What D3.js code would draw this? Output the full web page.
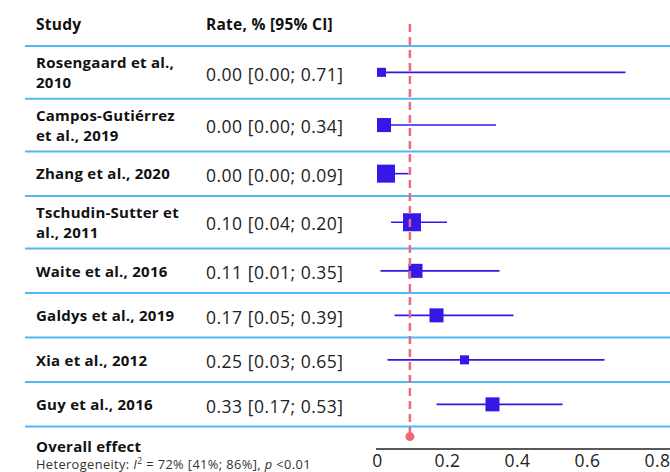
<!DOCTYPE html>
<html>
<head>
<meta charset="utf-8">
<script src="https://cdn.jsdelivr.net/npm/d3@7"></script>
<style>
  html, body { margin: 0; padding: 0; background: #fff; }
  svg { display: block; }
</style>
</head>
<body>
<div id="chart"></div>
<script>
// ---- data ----
const studies = [
  "Rosengaard et al., 2010",
  "Campos-Gutiérrez et al., 2019",
  "Zhang et al., 2020",
  "Tschudin-Sutter et al., 2011",
  "Waite et al., 2016",
  "Galdys et al., 2019",
  "Xia et al., 2012",
  "Guy et al., 2016"
];
const rates   = [0.00, 0.00, 0.00, 0.10, 0.11, 0.17, 0.25, 0.33];
const ciLower = [0.00, 0.00, 0.00, 0.04, 0.01, 0.05, 0.03, 0.17];
const ciUpper = [0.71, 0.34, 0.09, 0.20, 0.35, 0.39, 0.65, 0.53];
const weights = [5.1, 12.3, 20.3, 20.3, 12.3, 12.3, 5.1, 12.3];
const overallRate = 0.094;
const xTicks = [0, 0.2, 0.4, 0.6, 0.8];
const headers = ["Study", "Rate, % [95% CI]"];

// ---- layout ----
const W = 670, H = 472;
const svg = d3.select("#chart").append("svg").attr("width", W).attr("height", H);

const fontFam = "'Open Sans', 'Noto Sans', sans-serif";
const lineColor = "#4db9f5";
const markColor = "#3318e8";
const dashColor = "#f0687a";
const boldSize = 15;
const boldLS = 0.25;

const x = d3.scaleLinear().domain([0, 0.8]).range([377, 657]);
const size = d3.scaleSqrt().domain([0, 20.3]).range([0, 18]);

const fmt = d3.format(".2f");

function boldText(sel) {
  return sel.attr("font-family", fontFam).attr("font-weight", 700)
    .attr("font-size", boldSize).attr("letter-spacing", boldLS).attr("fill", "#111");
}

// wrap study names
const wrapWidth = 148;
const tmp = boldText(svg.append("text"));
function wrap(str) {
  const words = str.split(" ");
  const lines = [];
  let cur = "";
  words.forEach(w => {
    const test = cur ? cur + " " + w : w;
    tmp.text(test);
    if (tmp.node().getComputedTextLength() > wrapWidth && cur) {
      lines.push(cur); cur = w;
    } else cur = test;
  });
  lines.push(cur);
  return lines;
}
const rows = studies.map((s, i) => ({
  name: s, lines: wrap(s), rate: rates[i], lo: ciLower[i], hi: ciUpper[i], w: weights[i]
}));
tmp.remove();

let y0 = 46;
rows.forEach(r => {
  r.h = 36.3 + 8.2 * r.lines.length;
  r.top = y0;
  r.cy = y0 + r.h / 2;
  y0 += r.h;
});
const tableBottom = y0;

// headers
boldText(svg.append("text")).attr("x", 36).attr("y", 30).attr("font-size", 15.5).text(headers[0]);
boldText(svg.append("text")).attr("x", 206).attr("y", 30).attr("font-size", 15.5).text(headers[1]);

// row separators
const seps = [46].concat(rows.map(r => r.top + r.h));
svg.selectAll("line.sep").data(seps).enter().append("line")
  .attr("class", "sep")
  .attr("x1", 25).attr("x2", W)
  .attr("y1", d => d).attr("y2", d => d)
  .attr("stroke", lineColor).attr("stroke-width", 2);

// study labels
const g = svg.selectAll("g.row").data(rows).enter().append("g").attr("class", "row");
boldText(g.append("text"))
  .each(function(d) {
    const t = d3.select(this);
    const n = d.lines.length;
    d.lines.forEach((ln, k) => {
      t.append("tspan").attr("x", 36)
        .attr("y", d.cy + (k - (n - 1) / 2) * 20 + 5.8)
        .text(ln);
    });
  });

// value labels
g.append("text")
  .attr("x", 206).attr("y", d => d.cy + 8.2)
  .attr("font-family", fontFam).attr("font-size", 17.5).attr("letter-spacing", 0.5).attr("fill", "#222")
  .text(d => `${fmt(d.rate)} [${fmt(d.lo)}; ${fmt(d.hi)}]`);

// CI lines
g.append("line")
  .attr("x1", d => x(d.lo)).attr("x2", d => x(d.hi))
  .attr("y1", d => d.cy).attr("y2", d => d.cy)
  .attr("stroke", markColor).attr("stroke-width", 1.6);

// squares
g.append("rect")
  .attr("width", d => size(d.w)).attr("height", d => size(d.w))
  .attr("x", d => Math.max(x(0), x(d.rate) - size(d.w) / 2))
  .attr("y", d => d.cy - size(d.w) / 2)
  .attr("fill", markColor);

// overall dashed line + dot
const dotY = tableBottom + 10;
svg.append("line")
  .attr("x1", x(overallRate)).attr("x2", x(overallRate))
  .attr("y1", 24).attr("y2", dotY)
  .attr("stroke", dashColor).attr("stroke-width", 2.5).attr("stroke-dasharray", "8,5");
svg.append("circle").attr("cx", x(overallRate)).attr("cy", dotY).attr("r", 4.5).attr("fill", dashColor);

// axis
const axisY = 449;
svg.append("line").attr("x1", x(0) - 1).attr("x2", W).attr("y1", axisY).attr("y2", axisY)
  .attr("stroke", "#222").attr("stroke-width", 1.5);
const axis = d3.axisBottom(x).tickValues(xTicks).tickSize(0).tickPadding(6)
  .tickFormat(d => d === 0 ? "0" : d3.format(".1f")(d));
const ax = svg.append("g").attr("transform", `translate(0,${axisY})`).call(axis);
ax.select(".domain").remove();
ax.selectAll("text").attr("font-family", fontFam).attr("font-size", 17.5)
  .attr("letter-spacing", 0.5).attr("fill", "#222");

// overall effect text
boldText(svg.append("text")).attr("x", 36).attr("y", 452).text("Overall effect");
const het = svg.append("text").attr("x", 36).attr("y", 468.5)
  .attr("font-family", fontFam).attr("font-size", 12.8).attr("letter-spacing", 0.4).attr("fill", "#333");
het.append("tspan").text("Heterogeneity: ");
het.append("tspan").attr("font-style", "italic").text("I");
het.append("tspan").attr("font-size", 8.5).attr("dy", -5).text("2");
het.append("tspan").attr("dy", 5).text(" = 72% [41%; 86%], ");
het.append("tspan").attr("font-style", "italic").text("p");
het.append("tspan").text(" <0.01");
</script>
</body>
</html>
